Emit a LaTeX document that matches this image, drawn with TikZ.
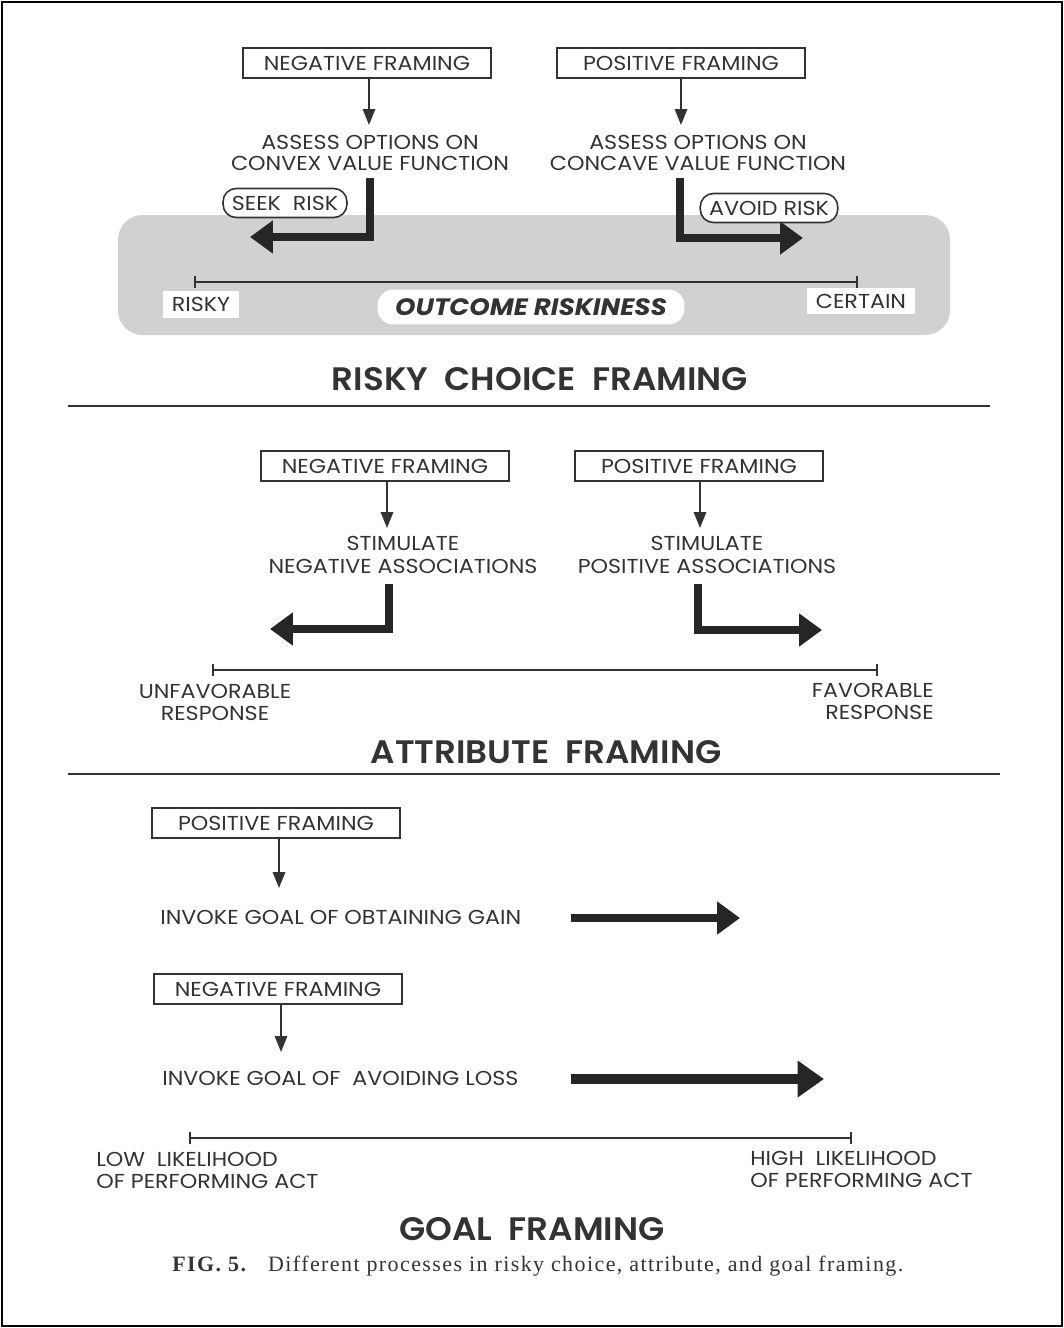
\documentclass[tikz,border=0pt]{standalone}
\usepackage{fontspec}
\setmainfont{Poppins}[FakeStretch=1.1]
\newfontfamily\headfont{Poppins SemiBold}[FakeStretch=1.05]
\newfontfamily\capfont{Liberation Serif}[LetterSpace=6.5]
\usetikzlibrary{arrows.meta}

\begin{document}
\begin{tikzpicture}[x=0.02cm, y=-0.02cm, line join=miter,
    every node/.style={text=black!80, font=\fontsize{11.5}{13}\selectfont, inner sep=0pt},
    framebox/.style={draw=black!80, line width=1pt, minimum width=4.96cm, minimum height=0.6cm},
    pill/.style={draw=black!80, fill=white, line width=0.9pt, rounded corners=7.5pt, inner xsep=5pt, minimum height=0.58cm},
    whitebox/.style={fill=white, inner xsep=5pt, minimum height=0.54cm},
    twoline/.style={align=center, font=\fontsize{11.5}{12.5}\selectfont},
    heading/.style={font=\headfont\fontsize{18.5}{20}\selectfont},
    thinarrow/.style={draw=black!80, line width=1pt, -{Triangle[length=9pt,width=7pt]}},
    fat/.style={draw=black!85, line width=4pt, -{Triangle[length=13pt,width=18pt]}},
    fatter/.style={draw=black!85, line width=5.5pt, -{Triangle[length=15pt,width=20pt]}},
    scaleline/.style={draw=black!80, line width=1pt, {Bar[width=7pt]}-{Bar[width=7pt]}}]
  \useasboundingbox (0,0) rectangle (1064,1328);
  \draw[line width=1.4pt] (2,2) rectangle (1062,1326);

  % risky choice framing
  \fill[black!18, rounded corners=14pt] (118,215) rectangle (950,335);
  \node[framebox] (negA) at (367,63) {NEGATIVE FRAMING};
  \node[framebox] (posA) at (681,63) {POSITIVE FRAMING};
  \node[twoline, font=\fontsize{11.5}{11.5}\selectfont] (convex) at (370,153) {ASSESS OPTIONS ON\\CONVEX VALUE FUNCTION};
  \node[twoline, font=\fontsize{11.5}{11.5}\selectfont] (concave) at (698,153) {ASSESS OPTIONS ON\\CONCAVE VALUE FUNCTION};
  \draw[thinarrow] (negA.south -| 369,0) -- (369,125);
  \draw[thinarrow] (posA.south -| 681,0) -- (681,125);

  \coordinate (seekTop) at (370,178);
  \coordinate (seekEnd) at (250,237);
  \coordinate (avoidTop) at (680,178);
  \coordinate (avoidEnd) at (803,238);
  \draw[fat] (seekTop) |- (seekEnd);
  \draw[fat] (avoidTop) |- (avoidEnd);
  \node[pill] (seek) at (285,203) {SEEK\ \ RISK};
  \node[pill] (avoid) at (769,208) {AVOID RISK};

  \coordinate (riskyEnd) at (194,282);
  \coordinate (certainEnd) at (858,282);
  \draw[scaleline] (riskyEnd) -- (certainEnd);
  \node[whitebox] (risky) at (201,304) {RISKY};
  \node[whitebox, rounded corners=9pt, minimum height=0.7cm, inner xsep=10pt, font=\fontsize{13.5}{14}\bfseries\itshape\selectfont] (riskiness) at (531,307) {OUTCOME RISKINESS};
  \node[whitebox] (certain) at (861,301) {CERTAIN};
  \node[heading] (titleA) at (540,379) {RISKY\ \ CHOICE\ \ FRAMING};
  \draw[line width=1pt, black!80] (68,406) -- (990,406);

  % attribute framing
  \node[framebox] (negB) at (385,466) {NEGATIVE FRAMING};
  \node[framebox] (posB) at (699,466) {POSITIVE FRAMING};
  \node[twoline, font=\fontsize{11.5}{13.5}\selectfont] (stimNeg) at (403,555) {STIMULATE\\NEGATIVE ASSOCIATIONS};
  \node[twoline, font=\fontsize{11.5}{13.5}\selectfont] (stimPos) at (707,555) {STIMULATE\\POSITIVE ASSOCIATIONS};
  \draw[thinarrow] (negB.south -| 387,0) -- (387,528);
  \draw[thinarrow] (posB.south -| 700,0) -- (700,528);

  \coordinate (unfavTop) at (389,584);
  \coordinate (unfavEnd) at (270,629);
  \coordinate (favTop) at (698,584);
  \coordinate (favEnd) at (822,630);
  \draw[fat] (unfavTop) |- (unfavEnd);
  \draw[fat] (favTop) |- (favEnd);

  \coordinate (unfavMark) at (212,670);
  \coordinate (favMark) at (878,670);
  \draw[scaleline] (unfavMark) -- (favMark);
  \node[twoline] (unfav) at (215,702) {UNFAVORABLE\\RESPONSE};
  \node[twoline, align=right, anchor=east] (fav) at (934,701) {FAVORABLE\\RESPONSE};
  \node[heading] (titleB) at (546,752) {ATTRIBUTE\ \ FRAMING};
  \draw[line width=1pt, black!80] (68,774) -- (1000,774);

  % goal framing
  \node[framebox] (posC) at (276,823) {POSITIVE FRAMING};
  \node[anchor=west] (gain) at (160,917) {INVOKE GOAL OF OBTAINING GAIN};
  \draw[thinarrow] (posC.south -| 279,0) -- (279,888);
  \coordinate (gainStart) at (571,918);
  \coordinate (gainEnd) at (740,918);
  \draw[fat] (gainStart) -- (gainEnd);

  \node[framebox] (negC) at (278,989) {NEGATIVE FRAMING};
  \node[anchor=west] (loss) at (162,1078) {INVOKE GOAL OF\ \ AVOIDING LOSS};
  \draw[thinarrow] (negC.south -| 281,0) -- (281,1052);
  \coordinate (lossStart) at (571,1079);
  \coordinate (lossEnd) at (824,1079);
  \draw[fatter] (lossStart) -- (lossEnd);

  \coordinate (lowMark) at (189,1138);
  \coordinate (highMark) at (852,1138);
  \draw[scaleline] (lowMark) -- (highMark);
  \node[twoline, align=left, anchor=west] (low) at (96,1170) {LOW\ \ LIKELIHOOD\\OF PERFORMING ACT};
  \node[twoline, align=left, anchor=west] (high) at (750,1169) {HIGH\ \ LIKELIHOOD\\OF PERFORMING ACT};
  \node[heading] (titleC) at (532,1229) {GOAL\ \ FRAMING};
  \node[anchor=west, font=\capfont\fontsize{12.5}{14}\selectfont] (caption) at (172,1266) {\textbf{FIG. 5.}\ \ \ Different processes in risky choice, attribute, and goal framing.};
\end{tikzpicture}
\end{document}
